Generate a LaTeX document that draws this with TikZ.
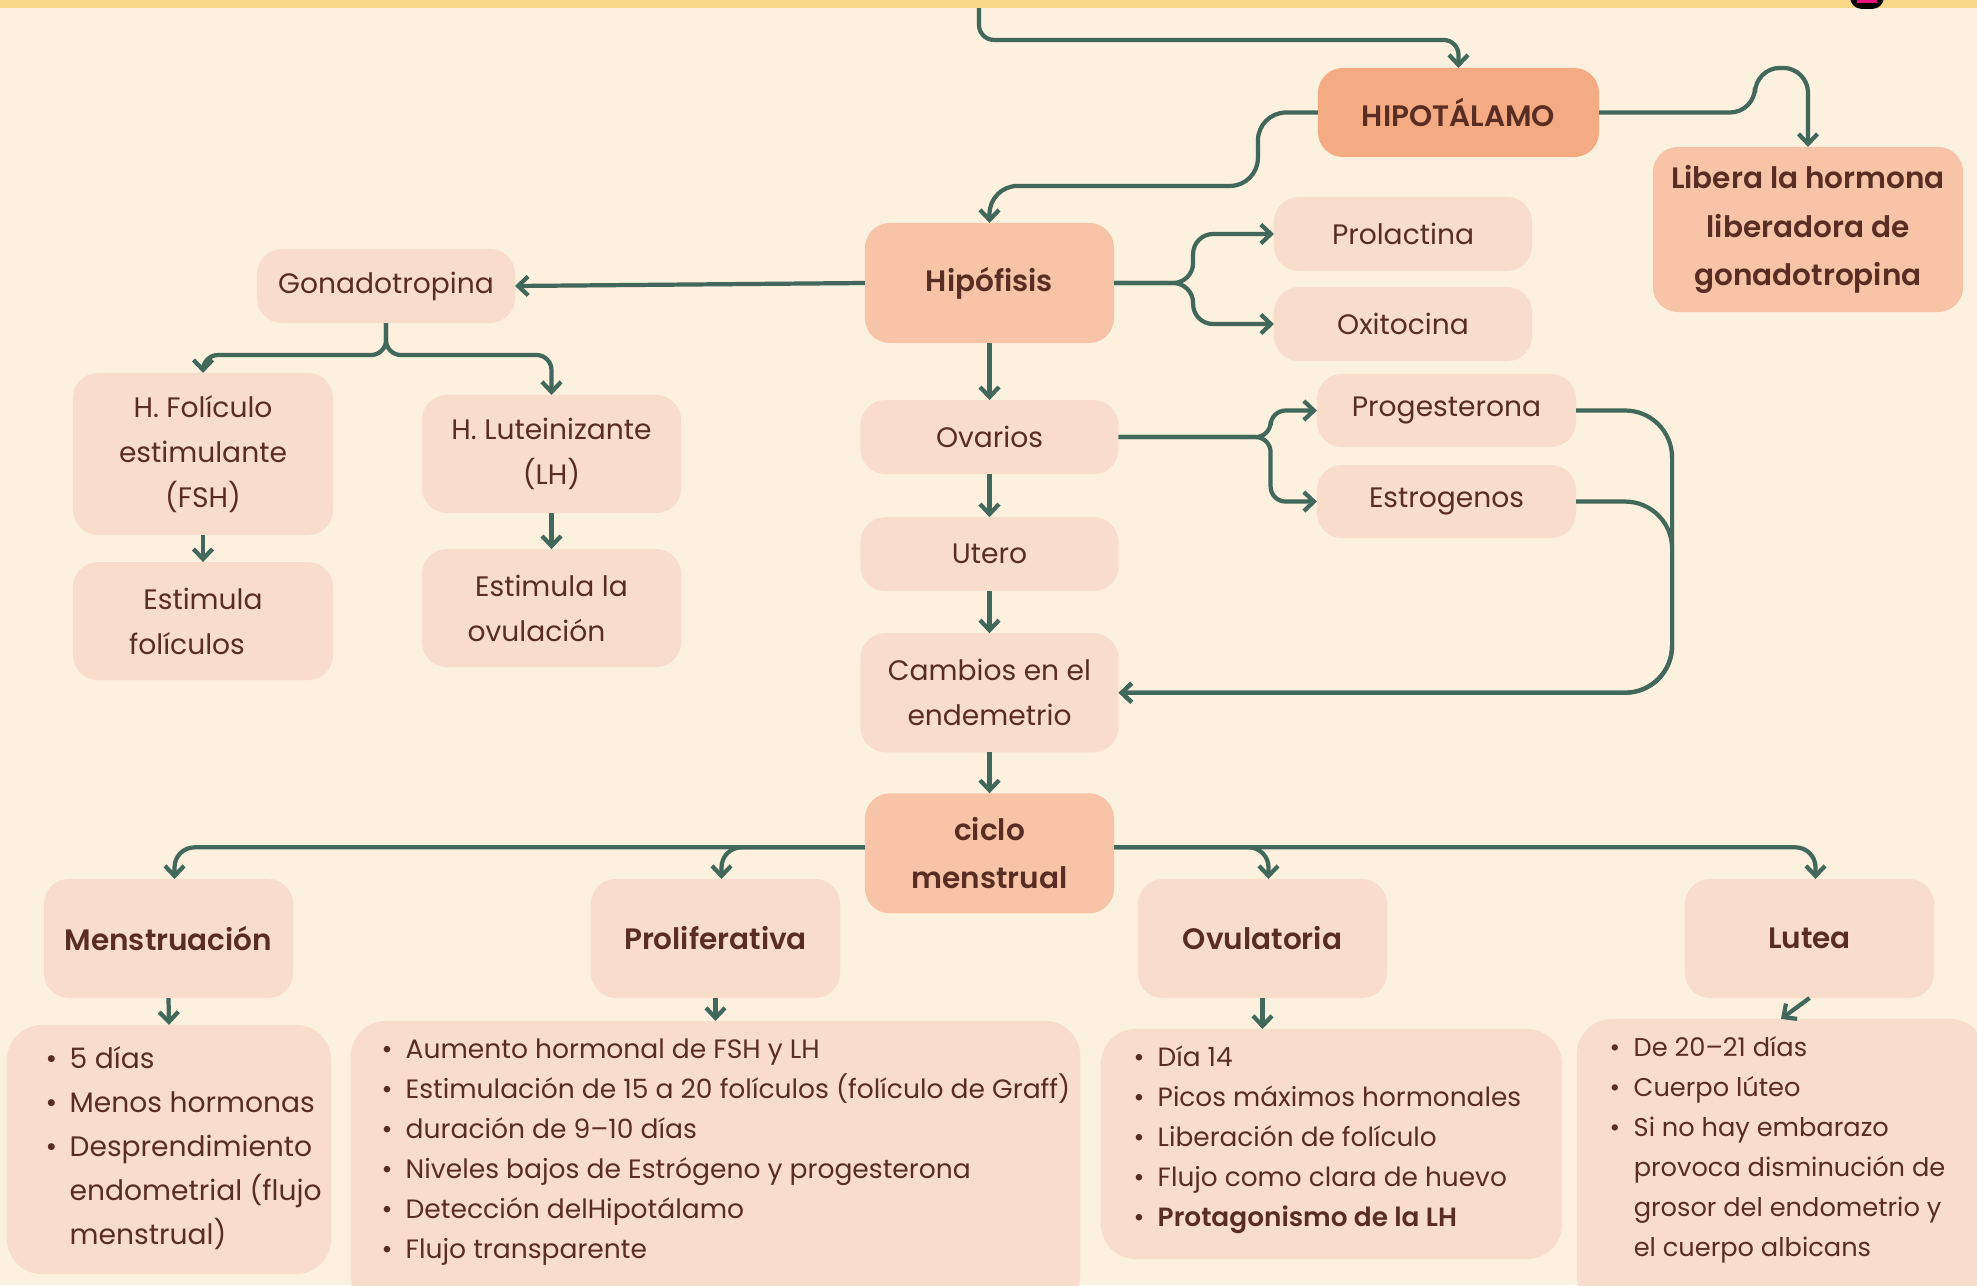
\documentclass[tikz,border=0pt]{standalone}
\usepackage{fontspec}
\setmainfont{Poppins}[BoldFont={Poppins SemiBold}]
\usetikzlibrary{arrows.meta,positioning,calc}
\definecolor{paper}{HTML}{FCF0DF}
\definecolor{sun}{HTML}{FBD98B}
\definecolor{peach}{HTML}{F9DDCC}
\definecolor{salmon}{HTML}{F7C4A7}
\definecolor{apricot}{HTML}{F4AA83}
\definecolor{pine}{HTML}{42675B}
\definecolor{ink}{HTML}{5A2D23}
\definecolor{tagpink}{HTML}{E8127E}
\newcommand{\itm}{\makebox[0.24cm][l]{\textbullet}}
\newcommand{\cnt}{\hspace*{0.24cm}}
\tikzset{
  softbox/.style={rounded corners=2.5mm,fill=peach,text=ink,align=center,inner sep=0pt,outer sep=0pt,
    font=\fontsize{8}{12.8}\selectfont},
  midbox/.style={softbox,fill=salmon,font=\bfseries\fontsize{8.4}{13.7}\selectfont},
  hotbox/.style={midbox,fill=apricot},
  phasebox/.style={softbox,minimum width=2.49cm,minimum height=1.19cm,
    font=\bfseries\fontsize{8.4}{13.7}\selectfont},
  listbox/.style={rounded corners=3.5mm,fill=peach,inner sep=0pt,outer sep=0pt},
  listtext/.style={anchor=west,align=left,text=ink,inner sep=0pt},
  link/.style={draw=pine,line width=1.2pt,-{Straight Barb[length=1mm,width=1.9mm]},rounded corners=2mm}
}
\begin{document}
\begin{tikzpicture}[x=0.01cm,y=-0.01cm]
  \useasboundingbox (0,0) rectangle (1977,1285);
  \fill[paper] (0,0) rectangle (1977,1285);

  \node[hotbox,minimum width=2.81cm,minimum height=0.89cm] (hipot) at (1458.5,112.5) {HIPOTÁLAMO};
  \node[midbox,minimum width=3.10cm,minimum height=1.65cm] (libera) at (1808,229.5) {Libera la hormona\\liberadora de\\gonadotropina};
  \node[midbox,minimum width=2.49cm,minimum height=1.20cm] (hipof) at (989.5,283) {Hipófisis};
  \node[softbox,minimum width=2.58cm,minimum height=0.74cm] (prolac) at (1403,234) {Prolactina};
  \node[softbox,minimum width=2.58cm,minimum height=0.74cm,below=0.16cm of prolac] (oxito) {Oxitocina};
  \node[softbox,minimum width=2.58cm,minimum height=0.74cm] (gonad) at (386,286) {Gonadotropina};
  \node[softbox,minimum width=2.60cm,minimum height=1.62cm] (fsh) at (203,454) {H. Folículo\\estimulante\\(FSH)};
  \node[softbox,minimum width=2.60cm,minimum height=1.18cm,below=0.27cm of fsh] (estfol) {Estimula\\folículos\hspace*{0.32cm}};
  \node[softbox,minimum width=2.59cm,minimum height=1.18cm] (lh) at (551.5,454) {H. Luteinizante\\(LH)};
  \node[softbox,minimum width=2.59cm,minimum height=1.18cm,below=0.36cm of lh] (estov) {Estimula la\\ovulación\hspace*{0.3cm}};

  \node[softbox,minimum width=2.58cm,minimum height=0.74cm,below=0.57cm of hipof] (ovar) {Ovarios};
  \node[softbox,minimum width=2.58cm,minimum height=0.74cm,below=0.43cm of ovar] (utero) {Utero};
  \node[softbox,minimum width=2.58cm,minimum height=1.19cm,below=0.42cm of utero] (cambios) {Cambios en el\\endemetrio};
  \node[softbox,minimum width=2.59cm,minimum height=0.73cm] (proges) at (1446.5,410.5) {Progesterona};
  \node[softbox,minimum width=2.59cm,minimum height=0.73cm,below=0.18cm of proges] (estrog) {Estrogenos};
  \node[midbox,minimum width=2.49cm,minimum height=1.20cm,below=0.41cm of cambios] (ciclo) {ciclo\\menstrual};

  \node[phasebox] (menst) at (168.5,938.5) {Menstruación};
  \node[phasebox] (prolif) at (715.5,938.5) {Proliferativa};
  \node[phasebox] (ovul) at (1262.5,938.5) {Ovulatoria};
  \node[phasebox] (lutea) at (1809.5,938.5) {Lutea};

  \node[listbox,minimum width=3.24cm,minimum height=2.49cm] (menstl) at (169,1149.5) {};
  \node[listbox,minimum width=7.29cm,minimum height=2.89cm] (prolifl) at (715.5,1165.5) {};
  \node[listbox,minimum width=4.61cm,minimum height=2.30cm] (ovull) at (1331.5,1144) {};
  \node[listbox,minimum width=4.08cm,minimum height=2.91cm] (lutel) at (1781,1164.5) {};

  \node[listtext,font=\fontsize{8}{12.5}\selectfont] (menstt) at (45,1148) {\itm 5 días\\
    \itm Menos hormonas\\
    \itm Desprendimiento\\
    \cnt endometrial (flujo\\
    \cnt menstrual)};
  \node[listtext,font=\fontsize{7.55}{11.4}\selectfont] (prolift) at (381,1152) {\itm Aumento hormonal de FSH y LH\\
    \itm Estimulación de 15 a 20 folículos (folículo de Graff)\\
    \itm duración de 9–10 días\\
    \itm Niveles bajos de Estrógeno y progesterona\\
    \itm Detección delHipotálamo\\
    \itm Flujo transparente};
  \node[listtext,font=\fontsize{7.5}{11.4}\selectfont] (ovult) at (1133,1139.5) {\itm Día 14\\
    \itm Picos máximos hormonales\\
    \itm Liberación de folículo\\
    \itm Flujo como clara de huevo\\
    \itm \textbf{Protagonismo de la LH}};
  \node[listtext,font=\fontsize{7.3}{11.4}\selectfont] (lutet) at (1609,1150) {\itm De 20–21 días\\
    \itm Cuerpo lúteo\\
    \itm Si no hay embarazo\\
    \cnt provoca disminución de\\
    \cnt grosor del endometrio y\\
    \cnt el cuerpo albicans};

  \coordinate (entry) at (979,0);
  \draw[link,rounded corners=1.5mm] (entry) |- ([yshift=2.8mm]hipot.north) -- (hipot.north);
  \draw[link,rounded corners=2.8mm] (hipot.west) -- ++(-60,0) |- ([yshift=3.7mm]hipof.north) -- (hipof.north);
  \draw[link,rounded corners=2.5mm] (hipot.east) -| ([xshift=-5.3mm,yshift=7.9mm]libera.north)
    -- ([yshift=7.9mm]libera.north) -- (libera.north);
  \draw[link] (hipof.west) -- (gonad.east);
  \draw[link] (hipof.east) -- ++(79,0) |- (prolac.west);
  \draw[link] (hipof.east) -- ++(79,0) |- (oxito.west);
  \draw[link,rounded corners=1.5mm] (gonad.south) -- ++(0,32) -| (fsh.north);
  \draw[link,rounded corners=1.5mm] (gonad.south) -- ++(0,32) -| (lh.north);
  \draw[link] (fsh) -- (estfol);
  \draw[link] (lh) -- (estov);
  \draw[link] (hipof) -- (ovar);
  \draw[link] (ovar) -- (utero);
  \draw[link] (utero) -- (cambios);
  \draw[link] (cambios) -- (ciclo);
  \draw[link,rounded corners=1.5mm] (ovar.east) -- ++(152,0) |- (proges.west);
  \draw[link,rounded corners=1.5mm] (ovar.east) -- ++(152,0) |- (estrog.west);
  \draw[link,rounded corners=4.7mm] (proges.east) -- ++(96,0) |- (cambios.east);
  \draw[link,rounded corners=4.7mm] (estrog.east) -- ++(96,0) |- (cambios.east);
  \draw[link] ([yshift=0.6mm]ciclo.west) -| ([xshift=0.6mm]menst.north);
  \draw[link] ([yshift=0.6mm]ciclo.west) -| ([xshift=0.6mm]prolif.north);
  \draw[link] ([yshift=0.6mm]ciclo.east) -| ([xshift=0.6mm]ovul.north);
  \draw[link] ([yshift=0.6mm]ciclo.east) -| ([xshift=0.6mm]lutea.north);
  \draw[link] (menst.south) -- (menstl.north);
  \draw[link] (prolif.south) -- (prolifl.north);
  \draw[link] (ovul.south) -- (ovul.south |- ovull.north);
  \draw[link] (lutea.south) -- (lutel.north);

  \fill[sun] (0,0) rectangle (1977,8);
  \fill[black,rounded corners=1.2mm] (1850,-20) rectangle (1884,9);
  \fill[tagpink] (1857,-10) rectangle (1877,3);
\end{tikzpicture}
\end{document}
